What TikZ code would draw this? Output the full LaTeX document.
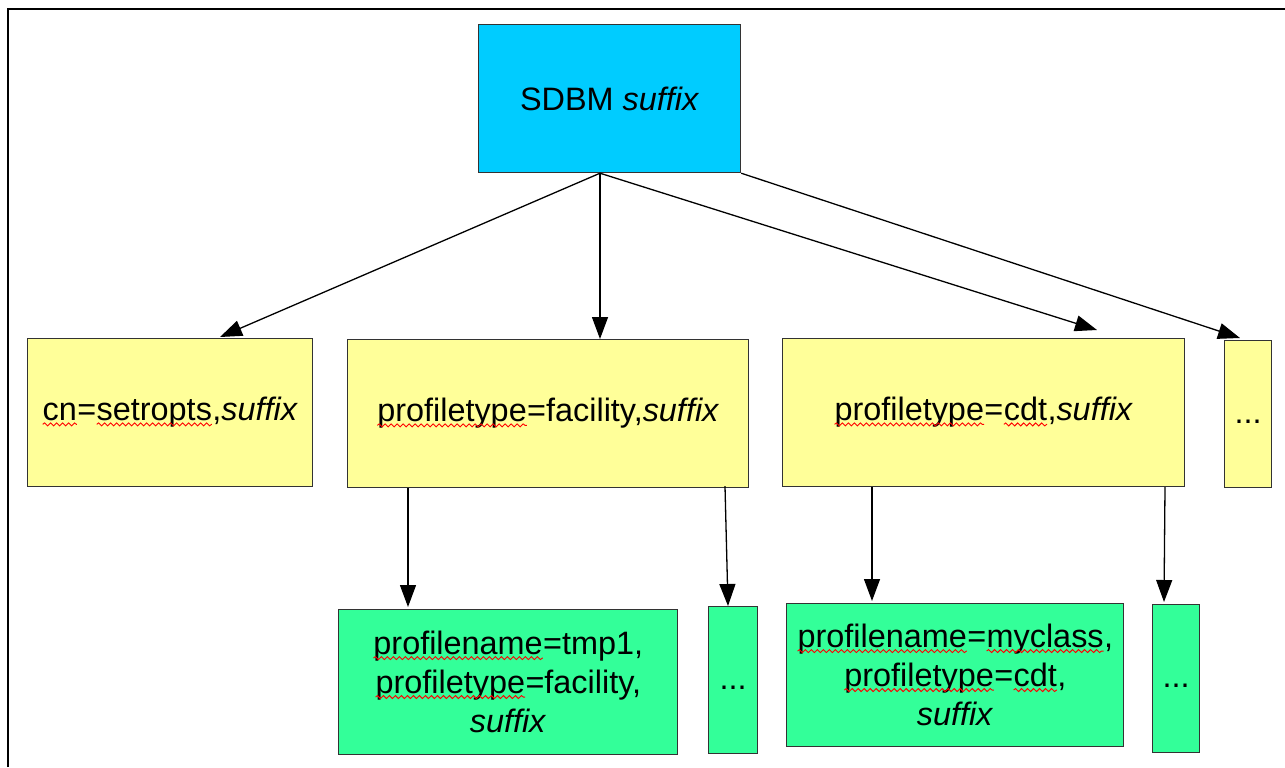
\documentclass[tikz,border=0pt]{standalone}
\usepackage{fontspec}
\setmainfont{Liberation Sans}
\usetikzlibrary{arrows.meta,decorations.pathmorphing}

% red wavy underline for flagged words
\newcommand\spell[1]{\tikz[baseline=(sw.base), x=1pt, y=1pt]{%
  \node[draw=none, fill=none, inner sep=0pt, outer sep=0pt, anchor=base,
        minimum width=0pt, minimum height=0pt] (sw) {#1};%
  \draw[draw=red, line width=0.45pt, decorate,
        decoration={snake, amplitude=0.75pt, segment length=3pt}]
    ([yshift=-1.7pt]sw.base west) -- ([yshift=-1.7pt]sw.base east);}}

% ellipsis set a little below the centre line
\newcommand\more{\raisebox{-4.5pt}[0pt][0pt]{...}}

\newdimen\px \px=0.5pt

\definecolor{rootcyan}{HTML}{00CCFF}
\definecolor{lvlyellow}{HTML}{FFFF99}
\definecolor{lvlgreen}{HTML}{33FF99}
\definecolor{boxline}{HTML}{333333}

\tikzset{
  box/.style={draw=boxline, line width=0.6pt, anchor=north west, inner sep=0pt,
    align=center, font=\fontsize{16.2}{19.5}\selectfont},
  rootbox/.style={box, fill=rootcyan},
  ybox/.style={box, fill=lvlyellow},
  gbox/.style={box, fill=lvlgreen},
  link/.style={line width=0.65pt, -{Triangle[length=11pt, width=8pt]}},
}

\begin{document}
\begin{tikzpicture}[x=0.5pt, y=-0.5pt]
  \useasboundingbox (0,0) rectangle (1285,767);
  % page frame
  \draw[line width=1pt] (8,767) -- (8,9) -- (1285,9);

  % root
  \node[rootbox, minimum width=262\px, minimum height=148\px] (root) at (478,24) {SDBM \textit{suffix}};

  % first level
  \node[ybox, minimum width=285\px, minimum height=148\px] (cn) at (27,338)
    {\spell{cn}=\spell{setropts},\textit{suffix}};
  \node[ybox, minimum width=401\px, minimum height=148\px] (fac) at (347,339)
    {\spell{profiletype}=facility,\textit{suffix}};
  \node[ybox, minimum width=402\px, minimum height=148\px] (cdt) at (782,338)
    {\spell{profiletype}=\spell{cdt},\textit{suffix}};
  \node[ybox, minimum width=47\px, minimum height=147\px] (ymore) at (1224,340) {\more};

  % second level
  \node[gbox, minimum width=339\px, minimum height=145\px] (tmp) at (338,609)
    {\spell{profilename}=tmp1,\\\spell{profiletype}=facility,\\\textit{suffix}};
  \node[gbox, minimum width=49\px, minimum height=147\px] (gmoreA) at (708,606) {\more};
  \node[gbox, minimum width=337\px, minimum height=143\px] (myc) at (786,603)
    {\spell{profilename}=\spell{myclass},\\\spell{profiletype}=\spell{cdt},\\\textit{suffix}};
  \node[gbox, minimum width=47\px, minimum height=148\px] (gmoreB) at (1152,604) {\more};

  % connectors from the root
  \coordinate (rootout) at ([xshift=122\px]root.south west);
  \draw[link] (rootout) -- ([xshift=193\px, yshift=1\px]cn.north west);
  \draw[link] (rootout) -- ([xshift=253\px]fac.north west);
  \draw[link] (rootout) -- ([xshift=315\px, yshift=8\px]cdt.north west);
  \draw[link] (root.south east) -- ([xshift=16\px, yshift=2\px]ymore.north west);

  % connectors to the second level
  \draw[link] ([xshift=61\px]fac.south west) -- ([xshift=70\px, yshift=2\px]tmp.north west);
  \draw[link] ([xshift=378\px, yshift=2\px]fac.south west) -- ([xshift=20\px]gmoreA.north west);
  \draw[link] ([xshift=90\px]cdt.south west) -- ([xshift=86\px, yshift=2\px]myc.north west);
  \draw[link] ([xshift=383\px]cdt.south west) -- ([xshift=12\px, yshift=2\px]gmoreB.north west);
\end{tikzpicture}
\end{document}
